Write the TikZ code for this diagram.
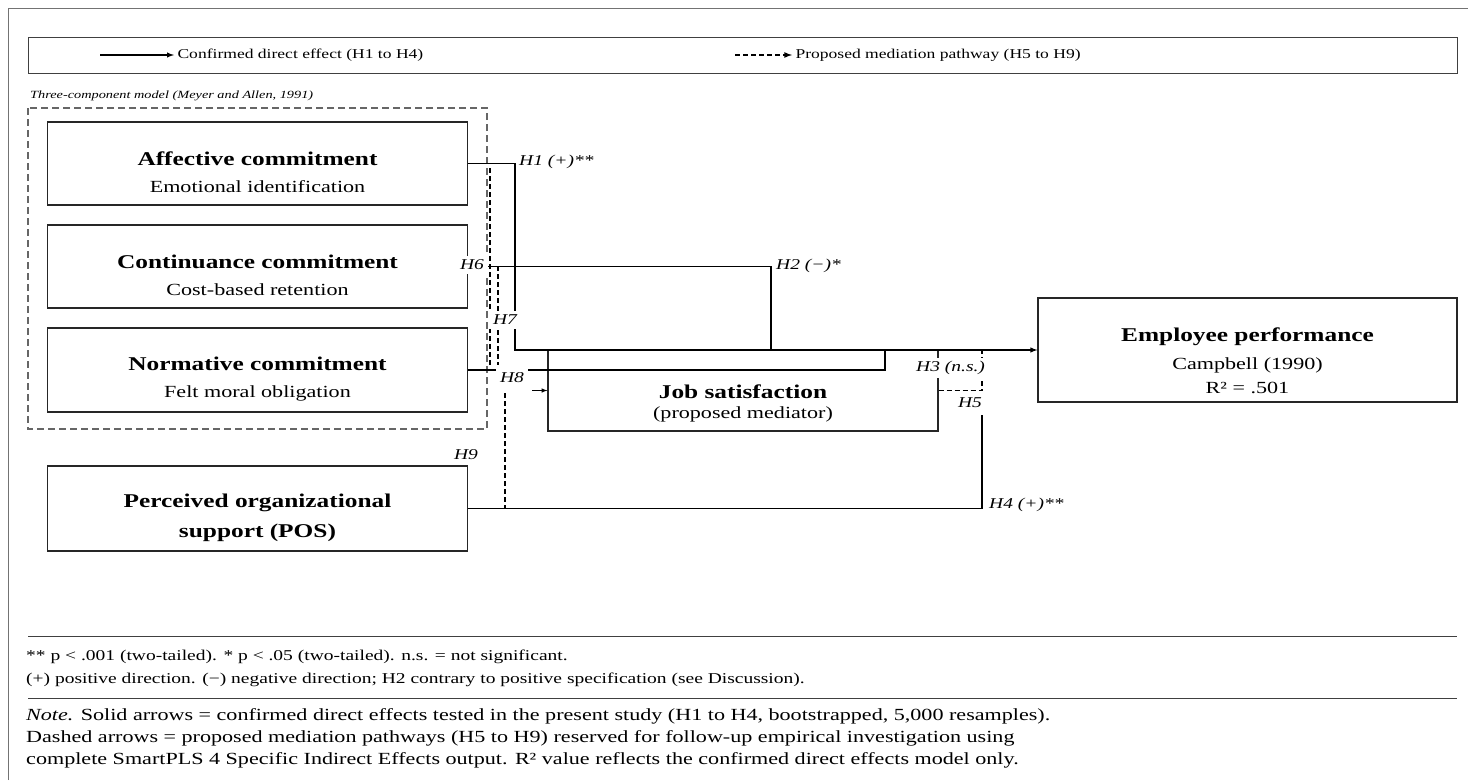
\documentclass[tikz,border=0pt]{standalone}
\usepackage{fontspec}
\setmainfont{Liberation Serif}[FakeStretch=1.3]
\newcommand{\titlef}{\bfseries\fontsize{19.5}{27}\selectfont}
\newcommand{\subf}{\fontsize{17}{27}\selectfont}
\newcommand{\labf}{\itshape\fontsize{15}{18}\selectfont}
\newcommand{\legf}{\fontsize{13.5}{16}\selectfont}
\newcommand{\notef}{\fontsize{15}{22}\selectfont}
\newcommand{\notelongf}{\fontsize{17}{22}\selectfont}

\begin{document}
\begin{tikzpicture}[x=1pt, y=-1pt,
    box/.style={draw=black!85, line width=1.2pt, fill=white, inner sep=0pt},
    boxtext/.style={align=center, inner sep=0pt, font=\subf},
    lab/.style={font=\labf, inner sep=1pt},
    hole/.style={font=\labf, fill=white, inner sep=4pt},
    direct/.style={line width=1.4pt},
    med/.style={line width=1.6pt, dash pattern=on 5pt off 3pt}]
  \useasboundingbox (0,0) rectangle (1468,780);
  \draw[black!55, line width=1pt] (8,780) -- (8,8) -- (1468,8);

  % legend
  \draw[black!75, line width=1pt] (28,37) rectangle (1457,73);
  \coordinate (lsolid) at (100,55);
  \node[anchor=west, font=\legf] (ltext1) at (174,55) {Confirmed direct effect (H1 to H4)};
  \draw[direct, ->, >=latex] (lsolid) -- (ltext1.west);
  \coordinate (ldash) at (735,55);
  \node[anchor=west, font=\legf] (ltext2) at (792,55) {Proposed mediation pathway (H5 to H9)};
  \draw[med, ->, >=latex] (ldash) -- (ltext2.west);

  % three-component group
  \node[anchor=west, font=\itshape\fontsize{11}{14}\selectfont, inner sep=0pt] (grouplab) at (30,96) {Three-component model (Meyer and Allen, 1991)};
  \draw[black!60, line width=1.2pt, dash pattern=on 7pt off 4pt] (28,108) rectangle (487,429);

  \node[box, minimum width=420pt, minimum height=83pt] (affective) at (257.5,163.5) {};
  \node[boxtext] (affectivetxt) at ([yshift=-9pt]affective.center)
    {{\titlef Affective commitment}\\Emotional identification};
  \node[box, minimum width=420pt, minimum height=83pt] (continuance) at (257.5,266.5) {};
  \node[boxtext] (continuancetxt) at ([yshift=-9pt]continuance.center)
    {{\titlef Continuance commitment}\\Cost-based retention};
  \node[box, minimum width=420pt, minimum height=84pt] (normative) at (257.5,370) {};
  \node[boxtext] (normativetxt) at ([yshift=-9pt]normative.center)
    {{\titlef Normative commitment}\\Felt moral obligation};
  \node[box, minimum width=420pt, minimum height=85pt] (pos) at (257.5,508.5) {};
  \node[boxtext, font=\titlef] (postxt) at ([yshift=-9pt]pos.center)
    {Perceived organizational\\[3pt]support (POS)};

  \node[box, minimum width=390pt, minimum height=81pt] (jobsat) at (743,390.5) {};
  \node[box, minimum width=419pt, minimum height=104pt] (employee) at (1247.5,350) {};
  \node[boxtext] (employeetxt) at ([yshift=-11pt]employee.center)
    {{\titlef Employee performance}\\[1pt]Campbell (1990)\\[-3pt]R² = .501};

  % direct effects
  \coordinate (h1bend) at (515,350);
  \draw[direct, ->, >=latex] (affective.east) -| (h1bend) -- (employee.west);
  \coordinate (h2bend) at (771,350);
  \draw[direct] (continuance.east) -| (h2bend);
  \coordinate (h3bend) at (885,351);
  \draw[direct] (normative.east) -| (h3bend);
  \coordinate (h4end) at (982,415);
  \draw[direct] (pos.east) -| (h4end);

  % mediation pathways
  \coordinate (h5end) at (982,350);
  \draw[med] (jobsat.east) -| (h5end);
  \coordinate (h6top) at (490,168);
  \coordinate (h6bot) at (490,365);
  \draw[med] (h6top) -- (h6bot);
  \coordinate (h7top) at (498,266);
  \coordinate (h7bot) at (498,365);
  \draw[med] (h7top) -- (h7bot);
  \coordinate (h8start) at (532,390.5);
  \draw[line width=1pt, ->, >=latex] (h8start) -- (jobsat.west);
  \coordinate (h9top) at (505,393);
  \coordinate (h9bot) at (505,508.5);
  \draw[med, line width=2pt] (h9top) -- (h9bot);

  \node[fill=white, inner xsep=10pt, inner ysep=5pt, font=\titlef] (jobtitle) at (743,392) {Job satisfaction};
  \node[font=\subf, inner sep=0pt] (jobsub) at (743,414) {(proposed mediator)};

  % path labels
  \node[lab, anchor=west] (l1) at (518,162) {H1 (+)**};
  \node[lab, anchor=west] (l2) at (775,266) {H2 (−)*};
  \node[hole, anchor=west, inner sep=3pt] (l3) at (913,368) {H3 (n.s.)};
  \node[lab, anchor=west] (l4) at (988,505) {H4 (+)**};
  \node[hole] (l5) at (970,403) {H5};
  \node[hole] (l6) at (472,265) {H6};
  \node[hole] (l7) at (505,320) {H7};
  \node[hole] (l8) at (512,378) {H8};
  \node[lab] (l9) at (466,455) {H9};

  % notes
  \draw[black!75, line width=1pt] (28,636) -- (1457,636);
  \node[anchor=west, font=\notef, inner sep=0pt] (n1) at (26,657) {** p < .001 (two-tailed). * p < .05 (two-tailed). n.s. = not significant.};
  \node[anchor=west, font=\notef, inner sep=0pt] (n2) at (26,680) {(+) positive direction. (−) negative direction; H2 contrary to positive specification (see Discussion).};
  \draw[black!75, line width=1pt] (28,698) -- (1457,698);
  \node[anchor=west, font=\notelongf, inner sep=0pt] (n3) at (26,716) {\textit{Note.} Solid arrows = confirmed direct effects tested in the present study (H1 to H4, bootstrapped, 5,000 resamples).};
  \node[anchor=west, font=\notelongf, inner sep=0pt] (n4) at (26,738) {Dashed arrows = proposed mediation pathways (H5 to H9) reserved for follow-up empirical investigation using};
  \node[anchor=west, font=\notelongf, inner sep=0pt] (n5) at (26,760) {complete SmartPLS 4 Specific Indirect Effects output. R² value reflects the confirmed direct effects model only.};
\end{tikzpicture}
\end{document}
